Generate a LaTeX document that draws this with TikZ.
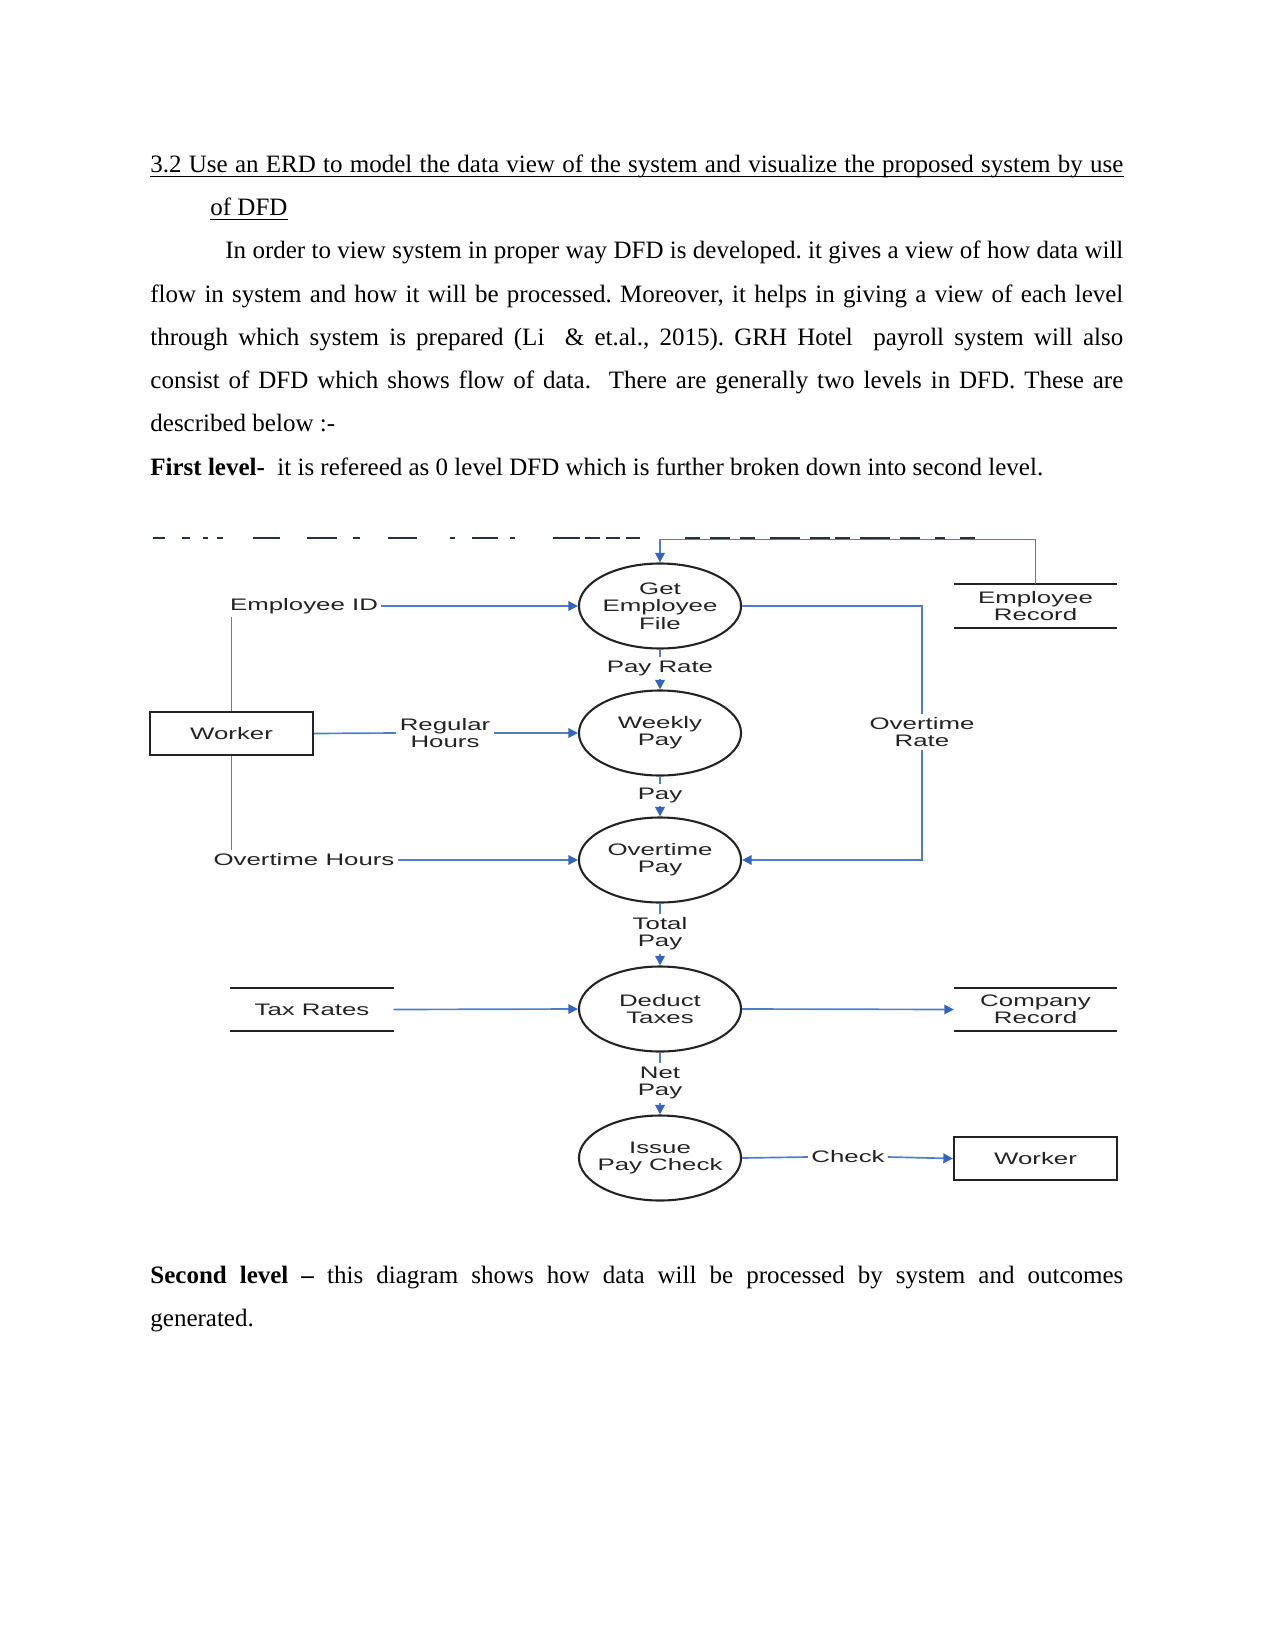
\documentclass[tikz,border=0pt]{standalone}
\usepackage{fontspec}
\setmainfont{Liberation Serif}
\newfontfamily\dfont[FakeStretch=1.55]{Liberation Sans}
\usetikzlibrary{arrows.meta,shapes.geometric}
\definecolor{flowblue}{RGB}{80,124,202}
\definecolor{tipblue}{RGB}{50,100,196}
\definecolor{inkgray}{RGB}{35,35,35}
\definecolor{artline}{RGB}{40,48,68}
\newcommand{\dsz}{\dfont\fontsize{8}{8.3}\selectfont}
\frenchspacing
\begin{document}
\begin{tikzpicture}[x=0.48pt,y=-0.48pt,
  proc/.style={ellipse, draw=inkgray, line width=1pt, minimum width=77.8pt, minimum height=40.8pt, inner xsep=-10pt, inner ysep=0pt, align=center, font=\dsz, text=inkgray},
  lbl/.style={fill=white, inner sep=1.5pt, align=center, font=\dsz, text=inkgray},
  flow/.style={draw=flowblue, line width=0.8pt, -{Triangle[length=4.6pt,width=4.6pt,color=tipblue]}},
  plain/.style={draw=flowblue, line width=0.8pt},
  entity/.style={draw=inkgray, line width=1.1pt, minimum width=78.2pt, minimum height=20.6pt, inner sep=0pt, font=\dsz, text=inkgray},
  store/.style={minimum width=78pt, minimum height=20.4pt, inner sep=0pt, align=center, font=\dsz, text=inkgray},
  storeline/.style={draw=inkgray, line width=1.1pt},
  txt/.style={anchor=base west, inner sep=0pt, font=\fontsize{12}{14}\selectfont}
]
\useasboundingbox (0,0) rectangle (1275,1650);

% ---------- text above ----------
\node[txt] (h1) at (150,173) {\makebox[467pt][s]{3.2 Use an ERD to model the data view of the system and visualize the proposed system by use}};
\node[txt] (h2) at (210,216) {of DFD\ };
\draw[line width=0.55pt] ([yshift=-1.6pt]h1.base west) -- ([yshift=-1.6pt]h1.base east);
\draw[line width=0.55pt] ([yshift=-1.6pt]h2.base west) -- ([yshift=-1.6pt]h2.base east);
\node[txt] (p1) at (225,259) {\makebox[431pt][s]{In order to view system in proper way DFD is developed. it gives a view of how data will}};
\node[txt] (p2) at (150,303) {\makebox[467pt][s]{flow in system and how it will be processed. Moreover, it helps in giving a view of each level}};
\node[txt] (p3) at (150,346) {\makebox[467pt][s]{through which system is prepared (Li\ \ \& et.al., 2015). GRH Hotel\ \ payroll system will also}};
\node[txt] (p4) at (150,389) {\makebox[467pt][s]{consist of DFD which shows flow of data.\ \ There are generally two levels in DFD. These are}};
\node[txt] (p5) at (150,432) {described below :-};
\node[txt] (p6) at (150,476) {\textbf{First level-}\ \ it is refereed as 0 level DFD which is further broken down into second level.};
\node[txt] (p7) at (150,1283) {\makebox[467pt][s]{\textbf{Second level --} this diagram shows how data will be processed by system and outcomes}};
\node[txt] (p8) at (150,1326) {generated.};

% ---------- diagram ----------
% cropped-edge artefact at the top of the figure
\coordinate (artA) at (153,538);
\coordinate (artB) at (978,538);
\draw[artline, line width=0.65pt, dash pattern=on 5.76pt off 8.16pt on 3.84pt off 6.24pt on 2.4pt off 4.32pt on 2.88pt off 14.4pt on 12.96pt off 12.96pt on 14.4pt off 7.68pt on 3.36pt off 13.44pt on 13.92pt off 15.84pt on 2.4pt off 8.16pt on 12.48pt off 5.76pt on 2.4pt off 18.24pt on 12.96pt off 2.4pt on 7.2pt off 2.88pt on 6.72pt off 2.88pt on 6.72pt off 21.6pt on 7.2pt off 4.8pt on 9.6pt off 4.8pt on 7.2pt off 7.2pt on 14.4pt off 4.8pt on 9.6pt off 2.4pt on 7.2pt off 4.8pt on 14.4pt off 4.8pt on 9.6pt off 7.2pt on 4.8pt off 7.2pt on 7.2pt off 48pt] (artA) -- (artB);

% processes
\node[proc] (gef) at (660,606) {Get\\Employee\\File};
\node[proc] (wp)  at (660,733) {Weekly\\Pay};
\node[proc] (otp) at (660,860) {Overtime\\Pay};
\node[proc] (dt)  at (660,1009) {Deduct\\Taxes};
\node[proc] (ipc) at (660,1158) {Issue\\Pay Check};

% entities
\node[entity] (w1) at (231.5,733.5) {Worker};
\node[entity] (w2) at (1035.5,1158.5) {Worker};

% stores
\node[store] (er) at (1035.5,606) {Employee\\Record};
\node[store] (cr) at (1035.5,1009.5) {Company\\Record};
\node[store] (tr) at (312,1009.5) {Tax Rates};
\draw[storeline] (er.north west) -- (er.north east) (er.south west) -- (er.south east);
\draw[storeline] (cr.north west) -- (cr.north east) (cr.south west) -- (cr.south east);
\draw[storeline] (tr.north west) -- (tr.north east) (tr.south west) -- (tr.south east);

% labels
\node[lbl] (eid) at (304,606) {Employee ID};
\node[lbl] (rh)  at (445,733) {Regular\\Hours};
\node[lbl] (oth) at (304,860) {Overtime Hours};
\node[lbl] (prl) at (660,668) {Pay Rate};
\node[lbl] (pyl) at (660,795) {Pay};
\node[lbl] (tpl) at (660,934) {Total\\Pay};
\node[lbl] (npl) at (660,1083) {Net\\Pay};
\node[lbl] (otr) at (922,732) {Overtime\\Rate};
\node[lbl] (chk) at (848,1157) {Check};

% flows
\draw[flow] (er.north) -- ++(0,-45) -| (gef.north);
\draw[plain] (w1.north) -- (w1.north |- eid.south);
\draw[flow] (eid.east) -- (gef.west);
\draw[plain] (w1.east) -- (rh.west);
\draw[flow] (rh.east) -- (wp.west);
\draw[plain] (w1.south) -- (w1.south |- oth.north);
\draw[flow] (oth.east) -- (otp.west);

\draw[plain] (gef.south) -- (prl.north);
\draw[flow] (prl.south) -- (wp.north);
\draw[plain] (wp.south) -- (pyl.north);
\draw[flow] (pyl.south) -- (otp.north);
\draw[plain] (otp.south) -- (tpl.north);
\draw[flow] (tpl.south) -- (dt.north);
\draw[plain] (dt.south) -- (npl.north);
\draw[flow] (npl.south) -- (ipc.north);

\draw[plain] (gef.east) -| (otr.north);
\draw[flow] (otr.south) |- (otp.east);

\draw[flow] (tr.east) -- (dt.west);
\draw[flow] (dt.east) -- (cr.west);
\draw[plain] (ipc.east) -- (chk.west);
\draw[flow] (chk.east) -- (w2.west);
\end{tikzpicture}
\end{document}
